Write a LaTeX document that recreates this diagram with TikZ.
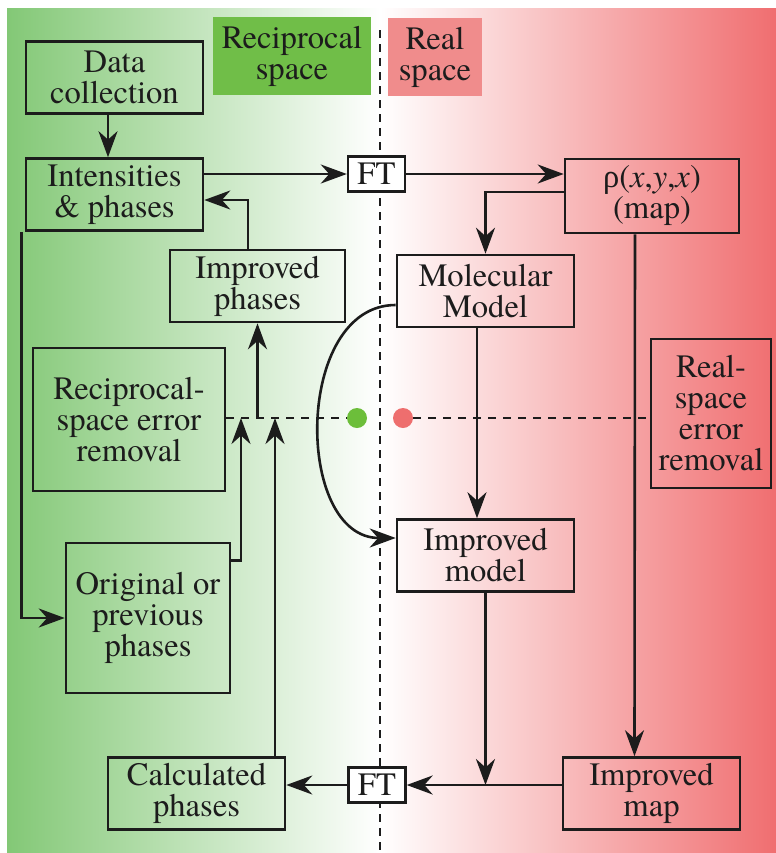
\documentclass[tikz,border=0pt]{standalone}
\usepackage{fontspec}
\setmainfont{texgyretermes}[Extension=.otf, UprightFont=*-regular,
  ItalicFont=*-italic, BoldFont=*-bold, BoldItalicFont=*-bolditalic]
\newfontfamily\greekfont{Liberation Serif}
\usepackage{tikz}
\usetikzlibrary{arrows.meta,positioning,calc}
\definecolor{leafgreen}{RGB}{131,200,118}
\definecolor{rosered}{RGB}{240,110,112}
\definecolor{tabgreen}{RGB}{112,190,72}
\definecolor{tabred}{RGB}{240,140,140}
\definecolor{dotgreen}{RGB}{108,190,58}
\definecolor{dotred}{RGB}{238,110,110}
\definecolor{ink}{RGB}{28,28,28}
\tikzset{
  stepbox/.style={draw=ink, line width=1.3pt, align=center, inner sep=0pt, text=ink,
    minimum width=88.5pt, minimum height=36pt, font=\fontsize{16.3}{15.5}\selectfont},
  ftbox/.style={draw=ink, fill=white, line width=1.2pt, inner sep=0pt, text=ink,
    minimum width=28.5pt, minimum height=17.5pt, font=\fontsize{16.3}{16}\selectfont},
  tab/.style={align=center, inner sep=0pt, text=ink, minimum height=39pt,
    font=\fontsize{16.3}{15.5}\selectfont},
  dot/.style={circle, inner sep=0pt, minimum size=10pt},
  flow/.style={-{Stealth[length=13pt, width=9.5pt, inset=4.2pt]}, line width=1.3pt, draw=ink},
  errline/.style={draw=ink, line width=1.2pt, dash pattern=on 4pt off 3.5pt},
  divider/.style={draw=ink, line width=1.4pt, dash pattern=on 4pt off 3pt}
}
\begin{document}
\begin{tikzpicture}[x=0.5pt, y=-0.5pt]
\useasboundingbox (0,0) rectangle (776,853);
\fill[left color=leafgreen, right color=white] (7,8) rectangle (380,852);
\fill[left color=white, right color=rosered] (380,8) rectangle (776,852);
\draw[divider] (380,30) -- (380,852);

\node[tab, fill=tabgreen, minimum width=79pt] (rlab) at (292,56) {Reciprocal\\space};
\node[tab, fill=tabred, minimum width=47pt] (slab) at (435,57) {Real\\space};

\node[stepbox] (dc) at (114.5,77.5) {Data\\collection};
\node[stepbox] (int) at (114.5,194.5) {Intensities\\\& phases};
\node[stepbox, minimum width=87.5pt] (ip) at (257.5,286) {Improved\\phases};
\node[stepbox, minimum width=87pt, minimum height=37pt] (map) at (652,196) {{\greekfont ρ}(\textit{x},\textit{y},\textit{x})\\(map)};
\node[stepbox] (mm) at (485.5,291) {Molecular\\Model};
\node[stepbox, minimum width=96pt, minimum height=71.5pt] (rse) at (129,419.5) {Reciprocal-\\space error\\removal};
\node[stepbox, minimum width=60pt, minimum height=74.5pt] (rte) at (711,413.5) {Real-\\space\\error\\removal};
\node[stepbox] (imod) at (485.5,555.5) {Improved\\model};
\node[stepbox, minimum width=82pt, minimum height=75pt] (orig) at (148,618) {Original or\\previous\\phases};
\node[stepbox] (calc) at (196.5,793.5) {Calculated\\phases};
\node[stepbox] (imap) at (651.5,793.5) {Improved\\map};
\node[ftbox] (ft1) at (376.5,174) {FT};
\node[ftbox] (ft2) at (377,785) {FT};

\node[dot, fill=dotgreen] (gdot) at (357,418) {};
\node[dot, fill=dotred] (rdot) at (403,418) {};
\draw[errline] (rse.east |- gdot) -- (gdot);
\draw[errline] (rdot) -- (rte.west |- rdot);

\coordinate (oc) at (241,418);
\coordinate (cc) at (275,418);
\coordinate (j) at (imod.south |- ft2);

\draw[flow] ([xshift=-3.25pt]dc.south) -- ([xshift=-3.25pt]int.north);
\draw[flow] ([yshift=10.25pt]int.east) -- (ft1.west);
\draw[flow] (ft1.east) -- (map.west |- ft1);
\draw[flow] ([yshift=2pt]map.west) -| (mm.north);
\draw[flow] ([xshift=-4.75pt]ip.north) |- ([yshift=-2.75pt]int.east);
\draw[flow] ([xshift=-1.5pt]int.south west) |- (orig.west);
\draw[flow] ([xshift=-4.25pt]mm.south) -- ([xshift=-4.25pt]imod.north);
\draw[flow] ([yshift=-7pt]mm.west) .. controls (294,305) and (294,538) .. ([yshift=8.75pt]imod.west);
\draw[flow] ([xshift=-8.5pt]map.south) -- ([xshift=-8.5pt]imap.north);
\draw[flow] (imod.south) -- (j);
\draw[flow] (imap.west |- ft2) -- (ft2.east);
\draw[flow] (ft2.west) -- (calc.east |- ft2);
\draw[flow] (calc.north -| cc) -- (cc);
\draw[flow] ([yshift=-9.5pt]orig.north east) -| (oc);
\draw[flow] (ip.south |- gdot) -- (ip.south);
\end{tikzpicture}
\end{document}
